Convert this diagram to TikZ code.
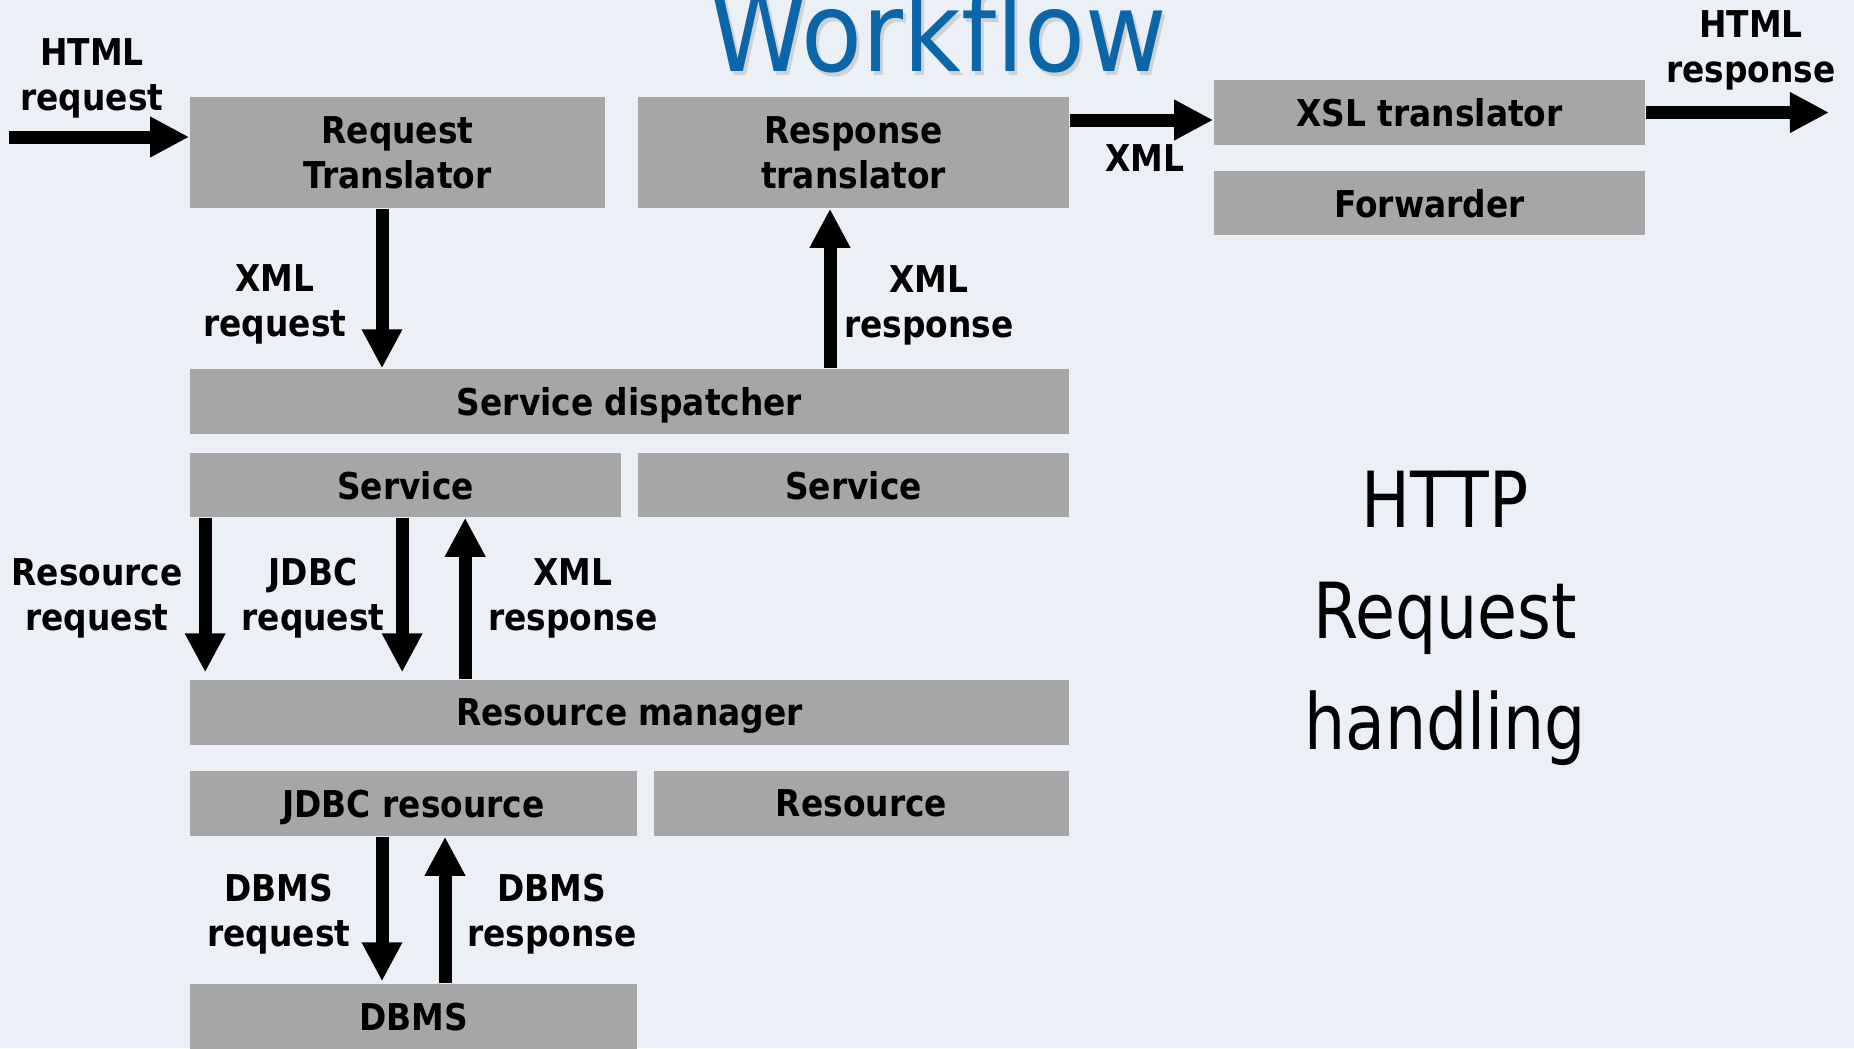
\documentclass[tikz,border=0pt]{standalone}
\usepackage{fontspec}
\setmainfont{DejaVu Sans}
\newfontfamily\labfont{DejaVu Sans}[FakeStretch=0.89]
\newfontfamily\headfont{DejaVu Sans}[FakeStretch=0.9]
\newfontfamily\sidefont{DejaVu Sans}[FakeStretch=0.84]
\usepackage{tikz}
\usetikzlibrary{calc,arrows.meta}
\definecolor{bg}{HTML}{EBF0F7}
\definecolor{boxgray}{HTML}{A6A6A6}
\definecolor{titleblue}{HTML}{0A66A8}
\tikzset{
  box/.style={fill=boxgray, inner sep=0pt, align=center, text depth=0pt, font=\labfont\bfseries\fontsize{10.5}{12.8}\selectfont},
  flow/.style={draw=black, line width=0.13cm, -{Triangle[length=0.39cm,width=0.38cm]}},
  lab/.style={align=center, font=\labfont\bfseries\fontsize{10.5}{12.8}\selectfont},
}

\begin{document}
\begin{tikzpicture}[x=0.01cm, y=-0.01cm]
  \useasboundingbox[fill=bg] (0,0) rectangle (1854,1048);
  % title
  \node[anchor=base, text=black!18, font=\headfont\fontsize{31.5}{33}\selectfont] (titleshadow) at (941,75) {Workflow};
  \node[anchor=base, text=titleblue, font=\headfont\fontsize{31.5}{33}\selectfont] (title) at (938,71) {Workflow};
  % boxes
  \node[box, minimum width=4.15cm, minimum height=1.11cm] (reqtr) at (397.5,152.5) {Request\\Translator};
  \node[box, minimum width=4.31cm, minimum height=1.11cm] (restr) at (853.5,152.5) {Response\\translator};
  \node[box, minimum width=4.31cm, minimum height=0.65cm] (xsl) at (1429.5,112.5) {XSL translator};
  \node[box, minimum width=4.31cm, minimum height=0.64cm] (fwd) at (1429.5,203) {Forwarder};
  \node[box, minimum width=8.79cm, minimum height=0.65cm] (disp) at (629.5,401.5) {Service dispatcher};
  \node[box, minimum width=4.31cm, minimum height=0.64cm] (serva) at (405.5,485) {Service};
  \node[box, minimum width=4.31cm, minimum height=0.64cm] (servb) at (853.5,485) {Service};
  \node[box, minimum width=8.79cm, minimum height=0.65cm] (resmgr) at (629.5,712.5) {Resource manager};
  \node[box, minimum width=4.47cm, minimum height=0.65cm] (jdbc) at (413.5,803.5) {JDBC resource};
  \node[box, minimum width=4.15cm, minimum height=0.65cm] (res) at (861.5,803.5) {Resource};
  \node[box, minimum width=4.47cm, minimum height=0.66cm] (dbms) at (413.5,1017) {DBMS};
  % free ends
  \coordinate (htmlin) at (9,137);
  \coordinate (htmlout) at (1829,112.5);
  \coordinate (xmlrow) at (0,120);
  % connectors
  \draw[flow] (htmlin) -- (htmlin -| reqtr.west);
  \draw[flow] ($(reqtr.south)+(-15.5,0)$) -- ($(reqtr.south |- disp.north)+(-15.5,0)$);
  \draw[flow] ($(disp.north -| restr.south)+(-23.5,0)$) -- ($(restr.south)+(-23.5,0)$);
  \draw[flow] (restr.east |- xmlrow) -- (xsl.west |- xmlrow);
  \draw[flow] (xsl.east) -- (htmlout);
  \draw[flow] ($(serva.south west)+(16,0)$) -- ($(serva.south west |- resmgr.north)+(16,-7)$);
  \draw[flow] ($(serva.south west)+(213,0)$) -- ($(serva.south west |- resmgr.north)+(213,-7)$);
  \draw[flow] ($(serva.south west |- resmgr.north)+(276,0)$) -- ($(serva.south west)+(276,0)$);
  \draw[flow] ($(jdbc.south)+(-31.5,0)$) -- ($(dbms.north)+(-31.5,-2)$);
  \draw[flow] ($(dbms.north)+(31.5,0)$) -- ($(jdbc.south)+(31.5,0)$);
  % labels
  \node[lab] (lhtmlreq) at (92,78) {HTML\\request};
  \node[lab] (lxmlreq) at (275,304) {XML\\request};
  \node[lab] (lxmlres) at (929,305) {XML\\response};
  \node[lab] (lxml) at (1145,158) {XML};
  \node[lab] (lhtmlres) at (1751,50) {HTML\\response};
  \node[lab] (lresreq) at (97,598) {Resource\\request};
  \node[lab] (ljdbcreq) at (313,598) {JDBC\\request};
  \node[lab] (lxmlres2) at (573,598) {XML\\response};
  \node[lab] (ldbmsreq) at (279,914) {DBMS\\request};
  \node[lab] (ldbmsres) at (552,914) {DBMS\\response};
  \node[align=center, font=\sidefont\fontsize{22}{31.6}\selectfont] (http) at (1445,618) {HTTP\\Request\\handling};
\end{tikzpicture}
\end{document}
